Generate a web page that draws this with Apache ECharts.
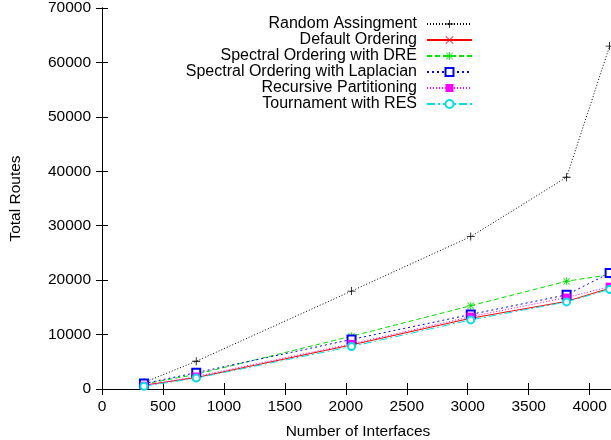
<!DOCTYPE html>
<html>
<head>
<meta charset="utf-8">
<script src="https://cdn.jsdelivr.net/npm/echarts@6/dist/echarts.min.js"></script>
<style>
  html, body { margin: 0; padding: 0; background: #fff; }
  #routes { width: 611px; height: 440px; }
</style>
</head>
<body>
<div id="routes"></div>
<script>
// number of interfaces (x) for each measurement
var interfaces = [344, 773, 2047, 3025, 3811, 4164];

var randomAssign = [1200, 5100, 18000, 28000, 38900, 63000];
var defaultOrder = [700, 2100, 8100, 13000, 16100, 18500];
var spectralDre = [900, 2700, 9700, 15300, 19800, 21000];
var spectralLap = [1000, 3000, 9100, 13700, 17300, 21300];
var recursivePart = [600, 2300, 8300, 13300, 16800, 18800];
var tournamentRes = [500, 2000, 7800, 12700, 16000, 18300];

var seriesNames = [
  'Random Assingment',
  'Default Ordering',
  'Spectral Ordering with DRE',
  'Spectral Ordering with Laplacian',
  'Recursive Partitioning',
  'Tournament with RES'
];

var xTicks = [0, 4200, 500];
var yTicks = [0, 70000, 10000];

function pairs(vals) {
  return interfaces.map(function (x, i) { return [x, vals[i]]; });
}

var plusPath = 'path://M4.5,0H5.5V10H4.5Z M0,4.5H10V5.5H0Z';
var crossPath = 'path://M0.7,0L10,9.3L9.3,10L0,0.7Z M9.3,0L10,0.7L0.7,10L0,9.3Z';
var starPath = 'path://M4.5,0H5.5V10H4.5Z M0,4.5H10V5.5H0Z M1.3,0.6L9.4,8.7L8.7,9.4L0.6,1.3Z M8.7,0.6L9.4,1.3L1.3,9.4L0.6,8.7Z';

var font = 'Liberation Sans, Arial, sans-serif';

var myChart = echarts.init(document.getElementById('routes'));

function mkSeries(name, vals, color, dash, symbol, size, bw) {
  return {
    name: name,
    type: 'line',
    data: pairs(vals),
    symbol: symbol,
    symbolSize: size,
    showAllSymbol: true,
    animation: false,
    color: color,
    lineStyle: { color: color, width: 1, type: dash },
    itemStyle: { color: color, borderColor: color, borderWidth: bw },
    z: 3
  };
}

var legends = seriesNames.map(function (n, i) {
  return {
    data: [n],
    right: 133,
    top: 11 + i * 16,
    orient: 'vertical',
    align: 'right',
    itemWidth: 45,
    itemHeight: 10,
    selectedMode: false,
    textStyle: {
      fontFamily: font,
      fontSize: 16,
      color: '#000',
      lineHeight: 16,
      padding: [0, 5, 0, 0]
    }
  };
});

var option = {
  backgroundColor: '#fff',
  animation: false,
  legend: legends,
  grid: { left: 102, right: -3, top: 8, bottom: 51, outerBoundsMode: 'none' },
  xAxis: [
    {
      type: 'value',
      min: xTicks[0], max: xTicks[1], interval: xTicks[2],
      name: 'Number of Interfaces',
      nameLocation: 'middle',
      nameGap: 35,
      nameTextStyle: { fontFamily: font, fontSize: 15.5, color: '#000' },
      axisLine: { show: true, lineStyle: { color: '#000', width: 1 } },
      axisTick: { inside: true, length: 6, lineStyle: { color: '#000' } },
      axisLabel: {
        fontFamily: font, fontSize: 15.5, color: '#000', margin: 10, showMaxLabel: false,
        formatter: function (v) { return String(v); }
      },
      splitLine: { show: false }
    },
    {
      type: 'value',
      position: 'top',
      min: xTicks[0], max: xTicks[1], interval: xTicks[2],
      axisLine: { show: true, lineStyle: { color: '#000', width: 1 } },
      axisTick: { inside: true, length: 6, lineStyle: { color: '#000' } },
      axisLabel: { show: false },
      splitLine: { show: false }
    }
  ],
  yAxis: [
    {
      type: 'value',
      min: yTicks[0], max: yTicks[1], interval: yTicks[2],
      name: 'Total Routes',
      nameLocation: 'middle',
      nameGap: 78,
      nameTextStyle: { fontFamily: font, fontSize: 15.5, color: '#000' },
      axisLine: { show: true, lineStyle: { color: '#000', width: 1 } },
      axisTick: { inside: true, length: 6, lineStyle: { color: '#000' } },
      axisLabel: {
        fontFamily: font, fontSize: 15.5, color: '#000', margin: 11,
        formatter: function (v) { return String(v); }
      },
      splitLine: { show: false }
    },
    {
      type: 'value',
      position: 'right',
      min: yTicks[0], max: yTicks[1], interval: yTicks[2],
      axisLine: { show: true, lineStyle: { color: '#000', width: 1 } },
      axisTick: { inside: true, length: 6, lineStyle: { color: '#000' } },
      axisLabel: { show: false },
      splitLine: { show: false }
    }
  ],
  series: [
    mkSeries(seriesNames[0], randomAssign, '#000000', [1, 2], plusPath, 8, 0),
    mkSeries(seriesNames[1], defaultOrder, '#ff0000', 'solid', crossPath, 7, 0),
    mkSeries(seriesNames[2], spectralDre, '#00e000', [5, 3], starPath, 8, 0),
    mkSeries(seriesNames[3], spectralLap, '#0000ff', [2, 3], 'emptyRect', 8, 1.2),
    mkSeries(seriesNames[4], recursivePart, '#ff00ff', [1, 2], 'rect', 8, 0),
    mkSeries(seriesNames[5], tournamentRes, '#00e0e0', [8, 3, 2, 3], 'emptyCircle', 7, 1.2)
  ]
};

option && myChart.setOption(option);
window.addEventListener('resize', function () {
  myChart.resize();
});
</script>
</body>
</html>
